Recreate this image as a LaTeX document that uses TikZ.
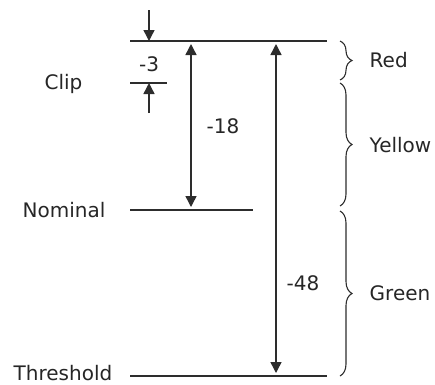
\documentclass[tikz,border=0pt]{standalone}
\usepackage{fontspec}
\setmainfont{DejaVu Sans}
\usetikzlibrary{arrows.meta,decorations.pathreplacing}
\definecolor{linegray}{RGB}{45,45,45}
\begin{document}
\begin{tikzpicture}[x=1pt,y=-1pt,line width=1.4pt,color=linegray,
	every node/.style={font=\fontsize{20}{24}\selectfont, text=black!85, inner sep=0pt},
	arr/.style={-{Triangle[length=11pt,width=11pt]}},
	darr/.style={{Triangle[length=11pt,width=11pt]}-{Triangle[length=11pt,width=11pt]}, shorten <=3pt, shorten >=3pt},
	brc/.style={decorate, decoration={brace,amplitude=12pt}, line width=1.1pt}]
		\useasboundingbox (0,0) rectangle (435,384);
		% Levels
		\coordinate (top1) at (130,41);
		\coordinate (top2) at (327,41);
		\coordinate (clip1) at (130,83);
		\coordinate (clip2) at (167,83);
		\coordinate (nom1) at (130,210);
		\coordinate (nom2) at (253,210);
		\coordinate (thr1) at (130,376);
		\coordinate (thr2) at (327,376);
		\coordinate (in1) at (149,10);
		\coordinate (in2) at (149,113);
		
		\node (clip) [anchor=base] at (63.5,89.5) {Clip};
		\node (nominal) [anchor=base] at (64,217) {Nominal};
		\node (threshold) [anchor=base] at (63,380) {Threshold};
		\node (val3) [anchor=base] at (149,71) {-3};
		\node (val18) [anchor=base] at (223,133) {-18};
		\node (val48) [anchor=base] at (303,290) {-48};
		\node (red) [anchor=base west] at (369,67) {Red};
		\node (yellow) [anchor=base west] at (369,152) {Yellow};
		\node (green) [anchor=base west] at (369,300) {Green};
		
		\draw (top1) -- (top2);
		\draw (clip1) -- (clip2);
		\draw (nom1) -- (nom2);
		\draw (thr1) -- (thr2);
		
		% Arrows
		\draw[arr] (in1) -- (in1 |- top1);
		\draw[arr] (in2) -- (in2 |- clip1);
		\draw[darr] (191,41) -- (191,210);
		\draw[darr] (276,41) -- (276,376);
		
		% Braces
		\draw[brc] (340,41) -- (340,80);
		\draw[brc] (340,83) -- (340,206);
		\draw[brc] (340,211) -- (340,376);
	\end{tikzpicture}
\end{document}
